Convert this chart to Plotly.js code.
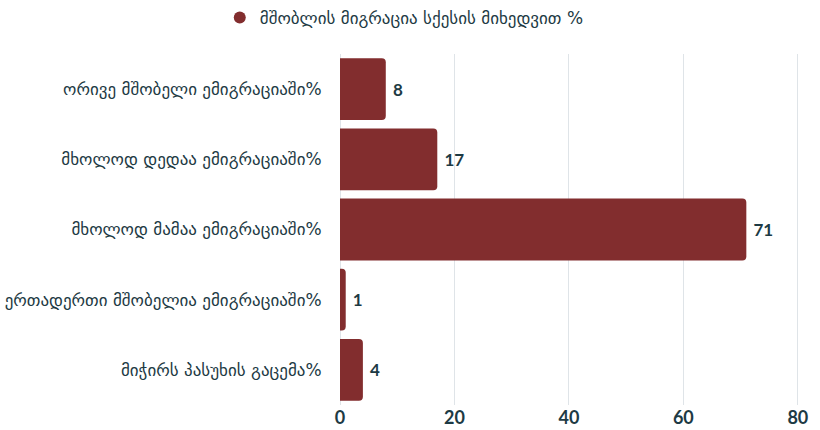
<!DOCTYPE html>
<html>
<head>
<meta charset="utf-8">
<script src="https://cdn.plot.ly/plotly-3.0.1.min.js"></script>
<style>html,body{margin:0;padding:0;background:#fff;}#chart{width:820px;height:430px;}</style>
</head>
<body>
<div id="chart"></div>
<script>
const categories = [
  "ორივე მშობელი ემიგრაციაში%",
  "მხოლოდ დედაა ემიგრაციაში%",
  "მხოლოდ მამაა ემიგრაციაში%",
  "ერთადერთი მშობელია ემიგრაციაში%",
  "მიჭირს პასუხის გაცემა%"
];
const values = [8, 17, 71, 1, 4];
const seriesName = "მშობლის მიგრაცია სქესის მიხედვით %";
const xTicks = [0, 20, 40, 60, 80];

const barColor = "#822d2e";
const textColor = "#1d3a44";

const traces = [
  {
    type: "bar",
    orientation: "h",
    y: categories,
    x: values,
    text: values.map(v => "\u00a0" + v),
    textposition: "outside",
    cliponaxis: false,
    textfont: {family: "Lato, 'Open Sans', sans-serif", size: 17, color: textColor, weight: 700},
    marker: {color: barColor, cornerradius: 4},
    showlegend: false,
    hoverinfo: "x+y"
  },
  {
    type: "scatter",
    mode: "markers",
    x: [null],
    y: [null],
    name: seriesName,
    marker: {color: barColor, size: 19, symbol: "circle"},
    showlegend: true
  }
];

const layout = {
  width: 820,
  height: 430,
  margin: {l: 340, r: 5, t: 54, b: 25},
  paper_bgcolor: "#fff",
  plot_bgcolor: "#fff",
  bargap: 0.12,
  font: {family: "'DejaVu Sans', sans-serif", color: textColor},
  showlegend: true,
  legend: {
    orientation: "h",
    x: 0.493, xref: "container", xanchor: "center",
    y: 1, yref: "container", yanchor: "top",
    font: {size: 17, color: textColor},
    itemsizing: "constant"
  },
  xaxis: {
    range: [0, 83],
    tickvals: xTicks,
    ticktext: xTicks.map(String),
    showgrid: true,
    gridcolor: "#dfe4e8",
    gridwidth: 1,
    zeroline: true,
    zerolinecolor: "#dfe4e8",
    showline: false,
    tickfont: {family: "Lato, 'Open Sans', sans-serif", size: 18, color: textColor, weight: 700},
    fixedrange: true
  },
  yaxis: {
    type: "category",
    autorange: "reversed",
    showgrid: false,
    zeroline: false,
    showline: false,
    ticks: "outside",
    ticklen: 14,
    tickcolor: "rgba(0,0,0,0)",
    tickfont: {size: 17, color: textColor},
    fixedrange: true
  }
};

Plotly.newPlot("chart", traces, layout, {displayModeBar: false, staticPlot: true});
</script>
</body>
</html>
